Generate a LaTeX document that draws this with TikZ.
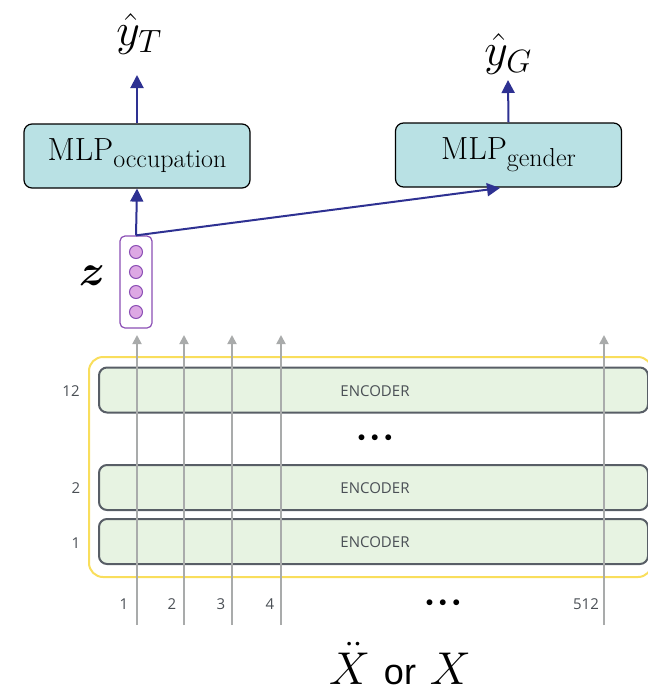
\documentclass[tikz,border=0pt]{standalone}
\usepackage{fix-cm}
\usepackage{amsmath}
\usepackage{bm}
\usepackage{fontspec}
\newfontfamily\opensans{Open Sans}
\newfontfamily\arialfont{Liberation Sans}
\usetikzlibrary{arrows.meta}
\definecolor{mlpfill}{HTML}{B9E1E4}
\definecolor{arrowblue}{HTML}{2E3192}
\definecolor{zpurple}{HTML}{8B4FB5}
\definecolor{zfill}{HTML}{DDA8E4}
\definecolor{arrowgrey}{HTML}{A9ABAB}
\definecolor{encfill}{HTML}{E7F3E2}
\definecolor{encborder}{HTML}{585E66}
\definecolor{enctext}{HTML}{4A4F55}
\definecolor{stackyellow}{HTML}{F9DE5C}
\newcommand{\mlpsub}[1]{\raisebox{-7pt}{\fontsize{26}{27}\selectfont #1}}
\begin{document}
\begin{tikzpicture}[x=1pt,y=-1pt,
  mlp/.style={draw=black, line width=1.2pt, fill=mlpfill, rounded corners=8pt,
    minimum width=226pt, minimum height=64pt, inner sep=0pt,
    font=\fontsize{32}{33}\selectfont},
  encoder/.style={draw=encborder, line width=2pt, fill=encfill, rounded corners=8pt,
    minimum width=549pt, minimum height=45pt, inner sep=0pt},
  enclabel/.style={font=\opensans\fontsize{15}{17}\selectfont, text=enctext},
  numlabel/.style={font=\opensans\fontsize{15}{17}\selectfont, text=enctext},
  bluearrow/.style={draw=arrowblue, line width=2pt, -{Triangle[length=13pt,width=13pt]}},
  greyarrow/.style={draw=arrowgrey, line width=1.8pt, -{Triangle[length=9pt,width=9pt]}},
  zbox/.style={draw=zpurple, line width=1.2pt, rounded corners=5pt, fill=white,
    minimum width=32pt, minimum height=92pt, inner sep=0pt},
  neuron/.style={circle, draw=zpurple, line width=1pt, fill=zfill, minimum size=13pt, inner sep=0pt},
  stackframe/.style={draw=stackyellow, line width=2pt, rounded corners=14pt,
    minimum width=563pt, minimum height=220pt, inner sep=0pt},
  dots/.style={font=\fontsize{15}{15}\selectfont},
  outlabel/.style={font=\fontsize{46}{48}\selectfont, inner sep=0pt}
]
\useasboundingbox (0,0) rectangle (648,691);

% stack frame
\node[stackframe] (stack) at (370.5,467) {};

% encoders
\node[encoder] (enc12) at (373.5,390) {};
\node[encoder] (enc2) at (373.5,487.5) {};
\node[encoder] (enc1) at (373.5,541.5) {};

% grey token arrows
\foreach \i/\x in {1/137,2/184,3/232,4/281,5/604}{
  \coordinate (in\i) at (\x,625);
  \coordinate (out\i) at (\x,335);
  \draw[greyarrow] (in\i) -- (out\i);
}

% encoder labels
\node[enclabel] (t12) at (375,391) {ENCODER};
\node[enclabel] (t2) at (375,488) {ENCODER};
\node[enclabel] (t1) at (375,542) {ENCODER};
\node[dots] (vdots) at (375,438) {$\bullet\,\bullet\,\bullet$};

% layer numbers
\node[numlabel] (l12) at (71,391) {12};
\node[numlabel] (l2) at (76,488) {2};
\node[numlabel] (l1) at (76,543) {1};

% token numbers
\node[numlabel] (n1) at (124,604) {1};
\node[numlabel] (n2) at (172,604) {2};
\node[numlabel] (n3) at (221,604) {3};
\node[numlabel] (n4) at (270,604) {4};
\node[numlabel] (n512) at (586,604) {512};
\node[dots] (hdots) at (443,603) {$\bullet\,\bullet\,\bullet$};

% input
\node[anchor=base, font=\fontsize{46}{48}\selectfont, inner sep=0pt] (xin) at (400,684)
  {$\ddot{X}$ {\arialfont\fontsize{36}{38}\selectfont or} $X$};

% z vector
\node[zbox] (z) at (136,282) {};
\foreach \j/\y in {1/252,2/272,3/292,4/312}{
  \node[neuron] (c\j) at (136,\y) {};
}
\node[font=\fontsize{44}{46}\selectfont] (zl) at (92,276) {$\bm{z}$};

% MLPs
\node[mlp] (occ) at (137,156) {MLP\mlpsub{occupation}};
\node[mlp] (gen) at (508.5,155) {MLP\mlpsub{gender}};

% outputs
\node[outlabel] (yT) at (139,34) {$\hat{y}_T$};
\node[outlabel] (yG) at (508,54) {$\hat{y}_G$};
\coordinate (tipT) at (137,75);
\coordinate (tipG) at (508,80);
\coordinate (tipGin) at (500,188);

\draw[bluearrow] (occ.north) -- (tipT);
\draw[bluearrow] (gen.north) -- (tipG);
\draw[bluearrow] (z.north) -- (occ.south);
\draw[bluearrow] (z.north) -- (tipGin);
\end{tikzpicture}
\end{document}
